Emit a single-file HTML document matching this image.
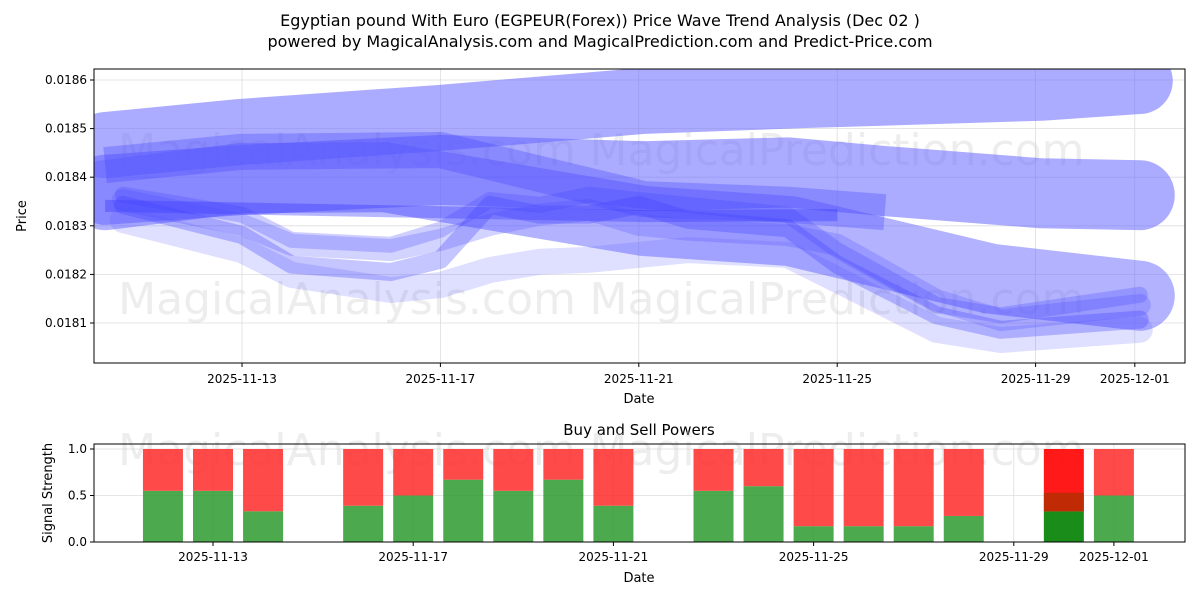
<!DOCTYPE html>
<html><head><meta charset="utf-8"><style>
body{margin:0;background:#fff;font-family:"Liberation Sans","DejaVu Sans",sans-serif}
svg text{font-family:"DejaVu Sans","Liberation Sans",sans-serif}
</style></head><body>
<svg id="c" width="1200" height="600" xmlns="http://www.w3.org/2000/svg">
<defs><clipPath id="cp"><rect x="94" y="69" width="1091" height="294"/></clipPath></defs>
<text x="600" y="26" font-size="16" text-anchor="middle">Egyptian pound With Euro (EGPEUR(Forex)) Price Wave Trend Analysis (Dec 02 )</text>
<text x="600" y="47" font-size="16" text-anchor="middle">powered by MagicalAnalysis.com and MagicalPrediction.com and Predict-Price.com</text>
<g id="topg"></g><g id="botg"></g>
</svg>
<script>
// ---- data ----
const xTickLabels = ["2025-11-13","2025-11-17","2025-11-21","2025-11-25","2025-11-29","2025-12-01"];
const xTickDays = [0,4,8,12,16,18];
const yTickValues = [0.0181,0.0182,0.0183,0.0184,0.0185,0.0186];
const band1Days = [-2.76,-0.04,4,8.1,11.35,16.1,18.1];
const band1Vals = [0.018466,0.018493,0.018522,0.018557,0.018569,0.018584,0.018598];
const band2Days = [-2.76,-0.04,4,8.1,11.0,12.96,16.1,18.1];
const band2Vals = [0.018374,0.018394,0.018415,0.018402,0.01841,0.018392,0.018367,0.018363];
const band3Days = [-2.76,-0.04,2.88,8.1,11.07,15.1,18.1];
const band3Vals = [0.018363,0.018398,0.0184,0.01831,0.018289,0.018191,0.018156];
const band4Days = [-2.76,-0.04,4,8.1,11.07,12.96];
const band4Vals = [0.018425,0.018452,0.018456,0.018355,0.018343,0.018328];
const darkDays = [-2.76,8.1,12];
const darkVals = [0.018341,0.01832,0.018322];
const thinDays = [-2.4,0,1,3,4,5,6,7,8,9,11,12,14,15.3,18.1];
const thin1 = [0.018343,0.018281,0.01822,0.018205,0.01823,0.018343,0.018323,0.018323,0.018343,0.018312,0.018295,0.01822,0.018116,0.018086,0.018107];
const thin2 = [0.018353,0.018302,0.018261,0.01825,0.018271,0.018302,0.018323,0.018333,0.018302,0.018292,0.018281,0.018261,0.018147,0.018106,0.018137];
const thin3 = [0.018312,0.01825,0.018199,0.018168,0.018178,0.018209,0.018226,0.01823,0.01824,0.01825,0.01824,0.018189,0.018086,0.018065,0.018086];
const thin4 = [0.018364,0.018323,0.018271,0.018261,0.018292,0.018353,0.018343,0.018364,0.018353,0.018343,0.018323,0.01825,0.018137,0.018116,0.018158];
const barDays = [-1,0,1,3,4,5,6,7,8,10,11,12,13,14,15,17,18];
const buyVals = [0.55,0.55,0.33,0.39,0.5,0.67,0.55,0.67,0.39,0.55,0.6,0.17,0.17,0.17,0.28,0.33,0.5];
const sellVals = [0.45,0.45,0.67,0.61,0.5,0.33,0.45,0.33,0.61,0.45,0.4,0.83,0.83,0.83,0.72,0.67,0.5];
const yTickBot = [0.0,0.5,1.0];
// ---- scales ----
const NS="http://www.w3.org/2000/svg";
const xT = d => 242 + d*49.6;
const yT = v => 80 + (0.0186 - v)/0.0001*48.6;
const xB = d => 213 + d*50.05;
const yB = v => 542 - v*93;
function mk(tag, attrs, parent){const e=document.createElementNS(NS,tag);for(const k in attrs)e.setAttribute(k,attrs[k]);parent.appendChild(e);return e;}
const topG=document.getElementById('topg'), botG=document.getElementById('botg');
mk('rect',{x:94,y:69,width:1091,height:294,fill:'#fff'},topG);
xTickDays.forEach((d,i)=>{
  const g=mk('line',{x1:xT(d),x2:xT(d),y1:69,y2:363,stroke:'#ddd','stroke-width':0.8},topG);
  
  
  mk('line',{x1:xT(d),x2:xT(d),y1:363,y2:367,stroke:'#000'},topG);
  const t=mk('text',{x:xT(d),y:383,'font-size':12,'text-anchor':'middle'},topG);t.textContent=xTickLabels[i];
  
  
});
yTickValues.forEach(v=>{
  mk('line',{x1:94,x2:1185,y1:yT(v),y2:yT(v),stroke:'#ddd','stroke-width':0.8},topG);
  mk('line',{x1:90,x2:94,y1:yT(v),y2:yT(v),stroke:'#000'},topG);
  const t=mk('text',{x:87,y:yT(v)+4,'font-size':12,'text-anchor':'end'},topG);t.textContent=v.toFixed(4);
  
  
});
const wm=[["MagicalAnalysis.com",347,165],["MagicalPrediction.com",837,165],["MagicalAnalysis.com",347,314],["MagicalPrediction.com",837,314]];
wm.forEach(w=>{const t=mk('text',{x:w[1],y:w[2],'font-size':44,'text-anchor':'middle',fill:'#ccc','fill-opacity':0.35},topG);t.textContent=w[0];

});
const wg=mk('g',{'clip-path':'url(#cp)'},topG);
function wave(days,vals,w,col,op,name,cap){
  const pts=days.map((d,i)=>xT(d)+','+yT(vals[i])).join(' ');
  const p=mk('polyline',{points:pts,fill:'none',stroke:col,'stroke-opacity':op,'stroke-width':w,'stroke-linejoin':'round','stroke-linecap':cap||'round'},wg);
  
  
}
wave(band1Days,band1Vals,66,'#6666ff',0.55,'wave-band-upper');
wave(band2Days,band2Vals,70,'#6666ff',0.55,'wave-band-middle');
wave(band3Days,band3Vals,70,'#6666ff',0.5,'wave-band-lower');
wave(band4Days,band4Vals,36,'#4040ff',0.3,'wave-band-dark','butt');
wave(darkDays,darkVals,12,'#3030ff',0.35,'wave-dark-line','butt');
wave(thinDays,thin3,26,'#6060ff',0.2,'wave-line');
wave(thinDays,thin2,22,'#5050ff',0.25,'wave-line');
wave(thinDays,thin1,18,'#4040ff',0.3,'wave-line');
wave(thinDays,thin4,16,'#4040ff',0.25,'wave-line');
mk('rect',{x:94,y:69,width:1091,height:294,fill:'none',stroke:'#000','stroke-width':1},topG);
let tx=mk('text',{x:639,y:403,'font-size':13,'text-anchor':'middle'},topG);tx.textContent='Date';


tx=mk('text',{x:26,y:216,'font-size':13,'text-anchor':'middle',transform:'rotate(-90 26 216)'},topG);tx.textContent='Price';


tx=mk('text',{x:639,y:435,'font-size':15,'text-anchor':'middle'},botG);tx.textContent='Buy and Sell Powers';


xTickDays.forEach((d,i)=>{
  mk('line',{x1:xB(d),x2:xB(d),y1:444,y2:542,stroke:'#ddd','stroke-width':0.8},botG);
  mk('line',{x1:xB(d),x2:xB(d),y1:542,y2:546,stroke:'#000'},botG);
  const tt=mk('text',{x:xB(d),y:561,'font-size':12,'text-anchor':'middle'},botG);tt.textContent=xTickLabels[i];
  
  
});
yTickBot.forEach(v=>{
  mk('line',{x1:94,x2:1185,y1:yB(v),y2:yB(v),stroke:'#ddd','stroke-width':0.8},botG);
  mk('line',{x1:90,x2:94,y1:yB(v),y2:yB(v),stroke:'#000'},botG);
  const tt=mk('text',{x:87,y:yB(v)+4,'font-size':12,'text-anchor':'end'},botG);tt.textContent=v.toFixed(1);
  
  
});
[["MagicalAnalysis.com",347,465],["MagicalPrediction.com",837,465]].forEach(w=>{const tt=mk('text',{x:w[1],y:w[2],'font-size':44,'text-anchor':'middle',fill:'#ccc','fill-opacity':0.35},botG);tt.textContent=w[0];

});
barDays.forEach((d,i)=>{
  const hl = d===17;
  const g=mk('rect',{x:xB(d)-20,y:yB(buyVals[i]),width:40,height:buyVals[i]*93,fill:hl?'#008000':'#2e9a2e','fill-opacity':hl?0.9:0.85},botG);
  
  
  const r=mk('rect',{x:xB(d)-20,y:yB(buyVals[i]+sellVals[i]),width:40,height:sellVals[i]*93,fill:hl?'#ff0000':'#ff2a2a','fill-opacity':hl?0.9:0.85},botG);
  
  
  if(hl){const o=mk('rect',{x:xB(d)-20,y:yB(buyVals[i]+0.2),width:40,height:0.2*93,fill:'#b03000','fill-opacity':0.8},botG);
  
  }
});
mk('rect',{x:94,y:444,width:1091,height:98,fill:'none',stroke:'#000','stroke-width':1},botG);
tx=mk('text',{x:639,y:582,'font-size':13,'text-anchor':'middle'},botG);tx.textContent='Date';


tx=mk('text',{x:52,y:493,'font-size':13,'text-anchor':'middle',transform:'rotate(-90 52 493)'},botG);tx.textContent='Signal Strength';


</script>
</body></html>
